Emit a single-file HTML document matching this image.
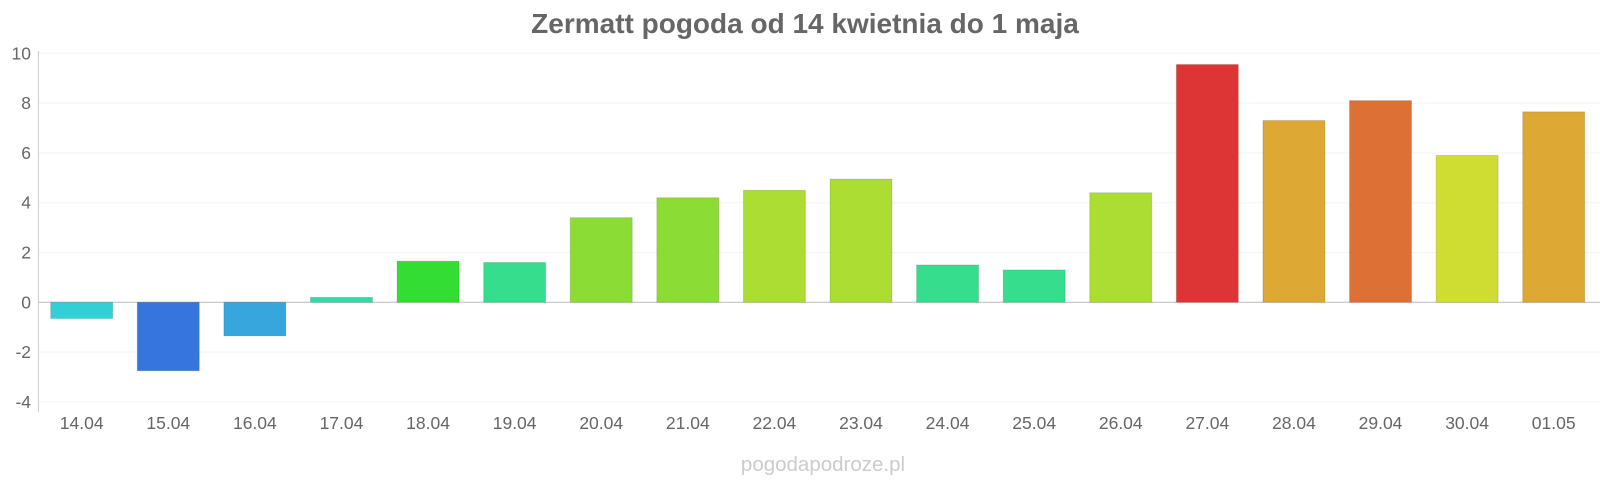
<!DOCTYPE html>
<html><head><meta charset="utf-8"><style>
body{margin:0;background:#fff;width:1600px;height:480px;overflow:hidden}
text{font-family:"Liberation Sans",sans-serif}
</style></head><body>
<svg id="c" width="1600" height="480">
<text x="805" y="33" text-anchor="middle" font-size="28" font-weight="bold" fill="#666">Zermatt pogoda od 14 kwietnia do 1 maja</text>
<text x="823" y="471" text-anchor="middle" font-size="20.5" fill="#ccc">pogodapodroze.pl</text>
<g id="grid"></g><g id="bars"></g><g id="axes"></g>
</svg>
<script>
const categories=["14.04","15.04","16.04","17.04","18.04","19.04","20.04","21.04","22.04","23.04","24.04","25.04","26.04","27.04","28.04","29.04","30.04","01.05"];
const temps=[-0.65,-2.75,-1.35,0.2,1.65,1.6,3.4,4.2,4.5,4.95,1.5,1.3,4.4,9.55,7.3,8.1,5.9,7.65];
const colors=["#33cfd6","#3575dd","#36a6dc","#33d9a8","#33dd33","#36dd8c","#8bdd36","#8bdd36","#acdd33","#acdd33","#36dd8c","#36dd8c","#acdd33","#dd3535","#dda833","#dd7035","#cfdd33","#dda833"];
const yTicks=[10,8,6,4,2,0,-2,-4];
const NS="http://www.w3.org/2000/svg";
const x0=38.4,x1=1597,y0=302.3,ppu=24.9;
const y=v=>y0-v*ppu;
const bw=(x1-x0)/categories.length;
const xc=i=>x0+bw*(i+0.5);
function mk(t,a,p){const e=document.createElementNS(NS,t);for(const k in a)e.setAttribute(k,a[k]);p.appendChild(e);return e;}
const g=document.getElementById('grid'),b=document.getElementById('bars'),ax=document.getElementById('axes');
yTicks.forEach(t=>{
 const l=mk('line',{x1:x0,x2:1600,y1:y(t),y2:y(t),stroke:t===0?'#bbb':'#f3f3f3','stroke-width':1},g);
 
 
 const tx=mk('text',{x:31,y:y(t)+6,'text-anchor':'end','font-size':17.5,fill:'#666'},ax);
 tx.textContent=t;
 
 
});
const al=mk('line',{x1:x0,x2:x0,y1:51,y2:412,stroke:'#ccc'},ax);


temps.forEach((v,i)=>{
 const top=Math.min(y(v),y0),h=Math.abs(y(v)-y0);
 const r=mk('rect',{x:xc(i)-31,y:top,width:62,height:h,fill:colors[i],stroke:'rgba(0,0,0,0.12)','stroke-width':1},b);
 
 
 const tx=mk('text',{x:xc(i),y:429,'text-anchor':'middle','font-size':17.5,fill:'#666'},ax);
 tx.textContent=categories[i];
 
 
});
</script>
</body></html>
